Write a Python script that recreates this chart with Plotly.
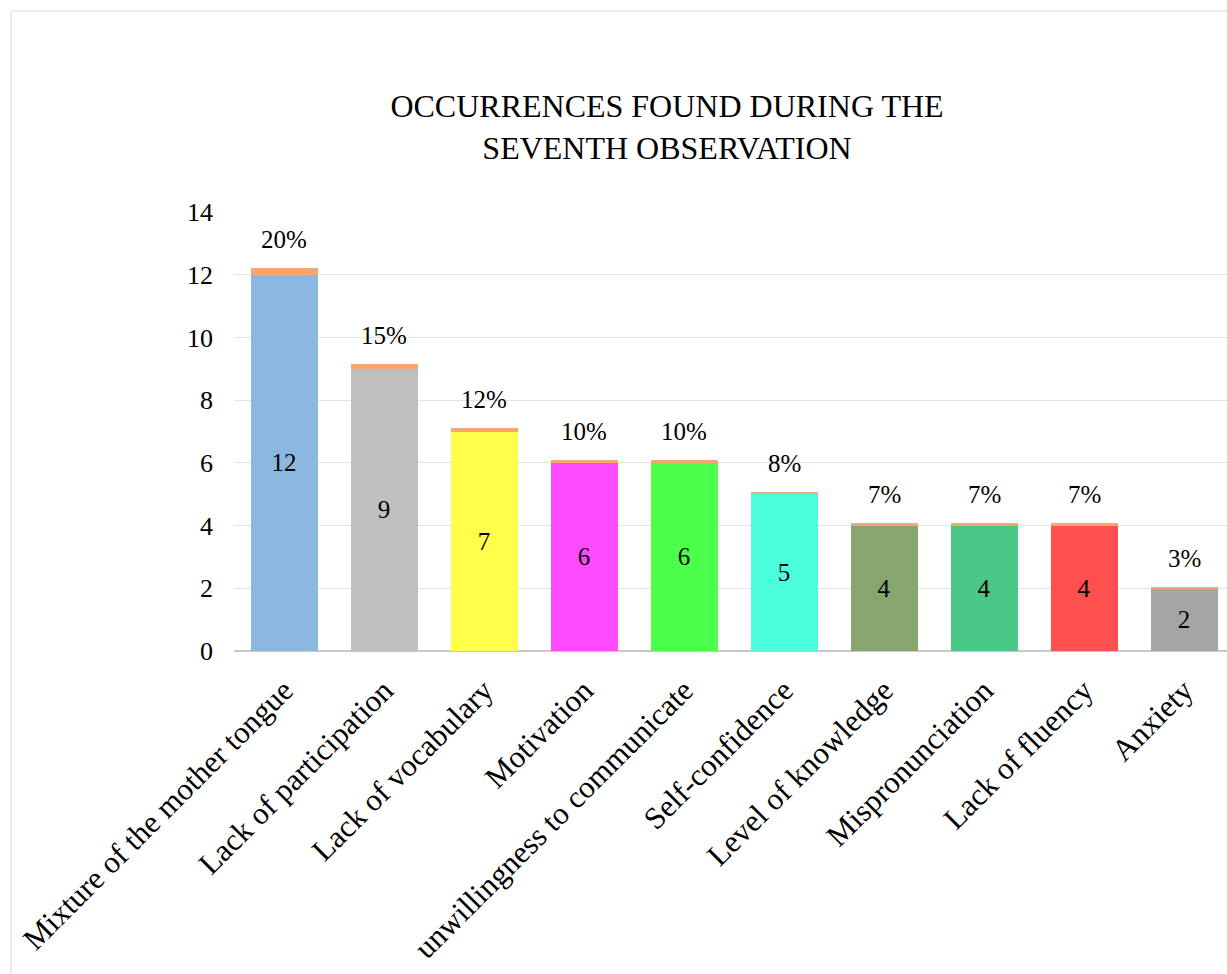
import plotly.graph_objects as go

# Occurrences recorded in the seventh classroom observation
categories = [
    "Mixture of the mother tongue",
    "Lack of participation",
    "Lack of vocabulary",
    "Motivation",
    "unwillingness to communicate",
    "Self-confidence",
    "Level of knowledge",
    "Mispronunciation",
    "Lack of fluency",
    "Anxiety",
]
counts = [12, 9, 7, 6, 6, 5, 4, 4, 4, 2]
shares = [0.20, 0.15, 0.12, 0.10, 0.10, 0.08, 0.07, 0.07, 0.07, 0.03]

bar_colors = [
    "#8BB7E1", "#BFBFBF", "#FFFF4B", "#FF4BFF", "#4BFF4B",
    "#4BFFDC", "#87A66F", "#4BC888", "#FF5050", "#A5A5A5",
]
share_color = "#F4A772"
serif = "Liberation Serif, Times New Roman, serif"

fig = go.Figure()
fig.add_trace(go.Bar(
    x=categories, y=counts,
    marker=dict(color=bar_colors, line=dict(width=0)),
    text=[str(c) for c in counts],
    textposition="inside", insidetextanchor="middle",
    textfont=dict(family=serif, size=25, color="#000000"),
    constraintext="none",
    width=0.67, showlegend=False, hoverinfo="x+y",
))
fig.add_trace(go.Bar(
    x=categories, y=shares,
    marker=dict(color=share_color, line=dict(width=0)),
    width=0.67, showlegend=False, hoverinfo="x+y",
))

# percentage labels above each stacked bar
for cat, c, s in zip(categories, counts, shares):
    fig.add_annotation(
        x=cat, y=c + s, text=f"{s:.0%}", showarrow=False,
        yanchor="bottom", yshift=13,
        font=dict(family=serif, size=25, color="#000000"),
    )

# outer chart frame
fig.add_shape(type="line", xref="paper", yref="paper",
              x0=-0.2246, x1=-0.2246, y0=-1.0, y1=1.458,
              line=dict(color="#D9D9D9", width=1))
fig.add_shape(type="line", xref="paper", yref="paper",
              x0=-0.2246, x1=1.05, y0=1.458, y1=1.458,
              line=dict(color="#D9D9D9", width=1))

fig.update_layout(
    barmode="stack",
    width=1227, height=974,
    margin=dict(l=234, r=0, t=212, b=323),
    paper_bgcolor="white", plot_bgcolor="white",
    font=dict(family=serif, color="#000000"),
    title=dict(
        text="OCCURRENCES FOUND DURING THE<br>SEVENTH OBSERVATION",
        x=667 / 1227, xanchor="center", xref="container",
        y=1 - 117 / 974, yanchor="middle", yref="container",
        font=dict(family=serif, size=32, color="#000000"),
    ),
    xaxis=dict(
        range=[-0.5, 9.43], tickangle=-45,
        tickfont=dict(family=serif, size=31, color="#000000"),
        showgrid=False, showline=False, ticks="", zeroline=False,
        ticklabelstandoff=14,
    ),
    yaxis=dict(
        range=[0, 14], dtick=2, tick0=0,
        tickfont=dict(family=serif, size=26, color="#000000"),
        showgrid=True, gridcolor="#E3E3E3", gridwidth=1,
        zeroline=True, zerolinecolor="#C8C8C8", zerolinewidth=2,
        showline=False, ticks="", ticklabelstandoff=20,
    ),
    bargap=0.33,
)

fig.write_html("out.html")
